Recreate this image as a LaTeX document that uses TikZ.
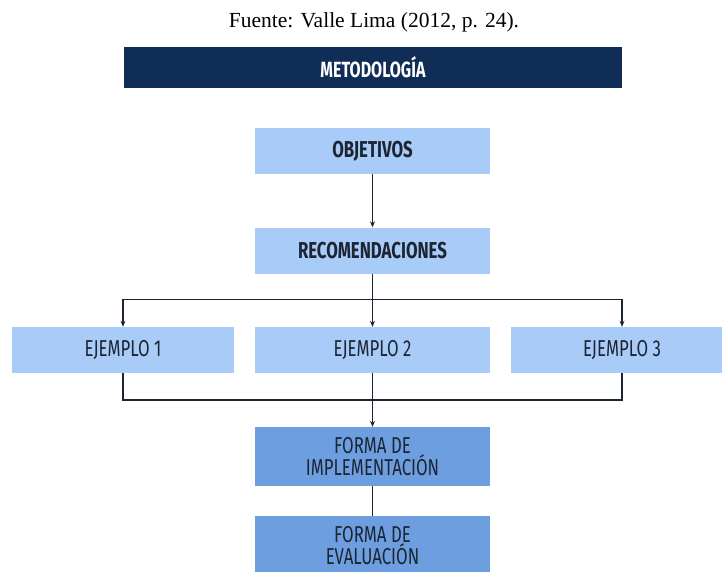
\documentclass[tikz,border=0pt]{standalone}
\usepackage{fontspec}
\setmainfont{Liberation Serif}
\newfontfamily\boxfont[FakeStretch=0.73]{Fira Sans}
\usetikzlibrary{arrows.meta}
\definecolor{navy}{HTML}{0F2D56}
\definecolor{paleblue}{HTML}{A9CBF7}
\definecolor{midblue}{HTML}{6D9FE0}
\definecolor{inkgray}{HTML}{1C2533}
\tikzset{>={Stealth[length=6pt,width=5pt]},
  box/.style={fill=paleblue, minimum width=235pt, minimum height=46pt, inner sep=0pt,
    text=inkgray, font=\boxfont\fontsize{23}{22}\selectfont, align=center},
  darkbox/.style={box, fill=midblue, minimum height=59pt},
  link/.style={draw=inkgray, line width=1.1pt}}

\begin{document}
\begin{tikzpicture}[x=1pt,y=-1pt]
    \useasboundingbox (0,0) rectangle (722,571);
    \clip (0,0) rectangle (722,571);
    \node (fuente) at (374,22) {\fontsize{21.5}{24}\selectfont Fuente: Valle Lima (2012, p. 24).};
    \node[box, fill=navy, text=white, minimum width=498pt, minimum height=41pt,
      font=\boxfont\bfseries\fontsize{22}{22}\selectfont] (metodo) at (373,67.5) {METODOLOGÍA};
    \node[box, font=\boxfont\bfseries\fontsize{23}{22}\selectfont] (obj) at (372.5,151) {OBJETIVOS};
    \node[box, font=\boxfont\bfseries\fontsize{23}{22}\selectfont] (rec) at (372.5,250.5) {RECOMENDACIONES};
    \node[box, minimum width=222pt] (ej1) at (123,350) {EJEMPLO 1};
    \node[box] (ej2) at (372.5,350) {EJEMPLO 2};
    \node[box, minimum width=222pt] (ej3) at (622,350) {EJEMPLO 3};
    \node[darkbox] (imp) at (372.5,456.5) {FORMA DE\\IMPLEMENTACIÓN};
    \node[darkbox] (eva) at (372.5,545.5) {FORMA DE\\EVALUACIÓN};
    \coordinate (split) at (372.5,299.5);
    \coordinate (join) at (372.5,400);
    % connectors
    \draw[link, ->] (obj) -- (rec);
    \draw[link] (rec) -- (split);
    \draw[link, ->] (split) -| (ej1.north);
    \draw[link, ->] (split) -- (ej2.north);
    \draw[link, ->] (split) -| (ej3.north);
    \draw[link] (ej1.south) |- (join);
    \draw[link] (ej3.south) |- (join);
    \draw[link, ->] (ej2.south) -- (imp.north);
    \draw[link] (imp) -- (eva);
\end{tikzpicture}
\end{document}
